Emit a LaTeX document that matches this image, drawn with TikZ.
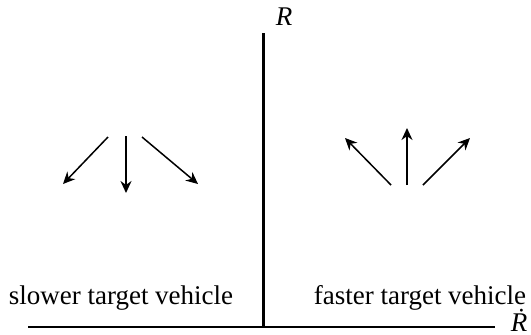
\documentclass[tikz,border=0pt]{standalone}
\usepackage{fontspec}
\setmainfont{Liberation Serif}
\usetikzlibrary{arrows.meta}
\begin{document}
\begin{tikzpicture}[x=0.5pt,y=-0.5pt,
  lbl/.style={font=\fontsize{13.5}{16}\selectfont, inner sep=0pt},
  vec/.style={line width=0.75pt, -{Stealth[length=6pt,width=5.5pt]}}]
\useasboundingbox (0,0) rectangle (531,334);
% axes
\coordinate (vtop) at (263,33);
\coordinate (vbot) at (263,328);
\coordinate (hl) at (28,327);
\coordinate (hr) at (495,327);
\draw[line width=1.5pt] (vtop) -- (vbot);
\draw[line width=1pt] (hl) -- (hr);
\node[lbl, anchor=base] (R) at (284,25) {\textit{R}};
\node[lbl, anchor=base] (Rd) at (519,331) {\textit{\.{R}}};
% left group
\coordinate (l1s) at (108,137); \coordinate (l1e) at (63,184);
\coordinate (l2s) at (126,136); \coordinate (l2e) at (126,193);
\coordinate (l3s) at (142,137); \coordinate (l3e) at (198,184);
\draw[vec] (l1s) -- (l1e);
\draw[vec] (l2s) -- (l2e);
\draw[vec] (l3s) -- (l3e);
% right group
\coordinate (r1s) at (391,185); \coordinate (r1e) at (345,138);
\coordinate (r2s) at (407,185); \coordinate (r2e) at (407,128);
\coordinate (r3s) at (423,185); \coordinate (r3e) at (470,138);
\draw[vec] (r1s) -- (r1e);
\draw[vec] (r2s) -- (r2e);
\draw[vec] (r3s) -- (r3e);
\node[lbl, anchor=base] (slow) at (121,304) {slower target vehicle};
\node[lbl, anchor=base] (fast) at (420,304) {faster target vehicle};
\end{tikzpicture}
\end{document}
